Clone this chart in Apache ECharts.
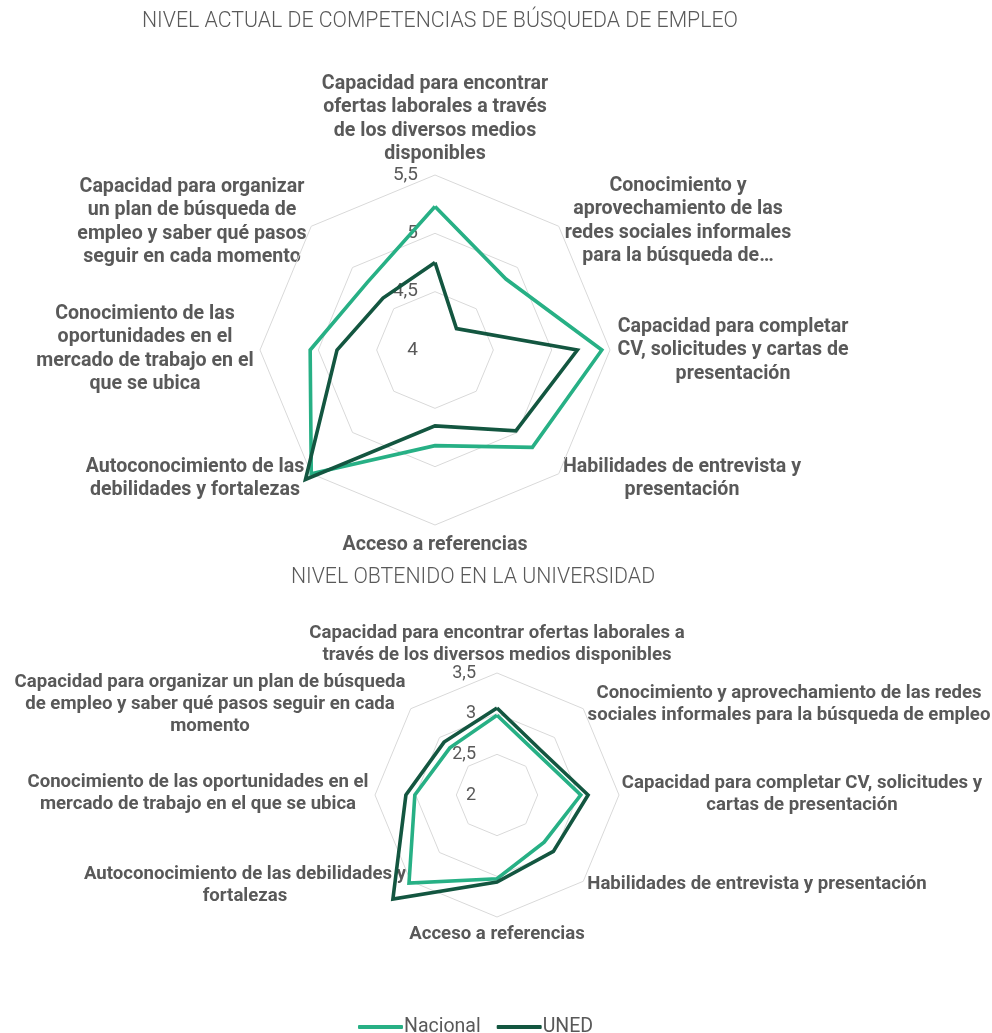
<!DOCTYPE html>
<html><head><meta charset="utf-8">
<script src="https://cdn.jsdelivr.net/npm/echarts@6/dist/echarts.min.js"></script>
<style>html,body{margin:0;padding:0;background:#fff}#c{width:992px;height:1033px}</style>
</head><body><div id="c"></div>
<script>
// Categories listed clockwise starting from the top axis
const categories = [
  'Capacidad para encontrar ofertas laborales a través de los diversos medios disponibles',
  'Conocimiento y aprovechamiento de las redes sociales informales para la búsqueda de empleo',
  'Capacidad para completar CV, solicitudes y cartas de presentación',
  'Habilidades de entrevista y presentación',
  'Acceso a referencias',
  'Autoconocimiento de las debilidades y fortalezas',
  'Conocimiento de las oportunidades en el mercado de trabajo en el que se ubica',
  'Capacidad para organizar un plan de búsqueda de empleo y saber qué pasos seguir en cada momento'
];
const labelsTop = [
  'Capacidad para encontrar\nofertas laborales a través\nde los diversos medios\ndisponibles',
  'Conocimiento y\naprovechamiento de las\nredes sociales informales\npara la búsqueda de…',
  'Capacidad para completar\nCV, solicitudes y cartas de\npresentación',
  'Habilidades de entrevista y\npresentación',
  'Acceso a referencias',
  'Autoconocimiento de las\ndebilidades y fortalezas',
  'Conocimiento de las\noportunidades en el\nmercado de trabajo en el\nque se ubica',
  'Capacidad para organizar\nun plan de búsqueda de\nempleo y saber qué pasos\nseguir en cada momento'
];
const labelsBottom = [
  'Capacidad para encontrar ofertas laborales a\ntravés de los diversos medios disponibles',
  'Conocimiento y aprovechamiento de las redes\nsociales informales para la búsqueda de empleo',
  'Capacidad para completar CV, solicitudes y\ncartas de presentación',
  'Habilidades de entrevista y presentación',
  'Acceso a referencias',
  'Autoconocimiento de las debilidades y\nfortalezas',
  'Conocimiento de las oportunidades en el\nmercado de trabajo en el que se ubica',
  'Capacidad para organizar un plan de búsqueda\nde empleo y saber qué pasos seguir en cada\nmomento'
];
const seriesNames = ['Nacional', 'UNED'];
const titleTop = 'NIVEL ACTUAL DE COMPETENCIAS DE BÚSQUEDA DE EMPLEO';
const titleBottom = 'NIVEL OBTENIDO EN LA UNIVERSIDAD';
const actualNacional = [5.23, 4.86, 5.43, 5.18, 4.82, 5.50, 5.07, 4.82];
const actualUNED     = [4.75, 4.26, 5.22, 4.98, 4.65, 5.57, 4.84, 4.63];
const uniNacional    = [2.98, 2.71, 3.03, 2.82, 3.03, 3.53, 3.01, 2.82];
const uniUNED        = [3.07, 2.77, 3.12, 2.98, 3.07, 3.81, 3.12, 2.92];
const ticksTop = [4, 4.5, 5, 5.5];
const ticksBottom = [2, 2.5, 3, 3.5];
const tickLabelsTop = ['4', '4,5', '5', '5,5'];
const tickLabelsBottom = ['2', '2,5', '3', '3,5'];

const colors = ['#27B085', '#135640'];
const textColor = '#595959';
// ECharts places radar indicators counter-clockwise; reorder clockwise list
const ccw = [0, 7, 6, 5, 4, 3, 2, 1];
const reorder = arr => ccw.map(i => arr[i]);

const radarTop = {cx: 435, cy: 350, r: 175, min: ticksTop[0], max: ticksTop[ticksTop.length - 1]};
const radarBot = {cx: 497, cy: 795, r: 122, min: ticksBottom[0], max: ticksBottom[ticksBottom.length - 1]};

function radarCfg(g) {
  return {
    center: [g.cx, g.cy], radius: g.r, startAngle: 90, shape: 'polygon', splitNumber: 3,
    indicator: reorder(categories).map(n => ({name: n, min: g.min, max: g.max})),
    axisName: {show: false},
    axisLine: {show: false}, axisTick: {show: false}, axisLabel: {show: false},
    splitLine: {lineStyle: {color: '#D9D9D9', width: 1}},
    splitArea: {show: false}
  };
}
function series(idx, a, b) {
  return [a, b].map((vals, k) => ({
    type: 'radar', radarIndex: idx, name: seriesNames[k], symbol: 'none', z: 2 + k,
    lineStyle: {color: colors[k], width: 3.6, join: 'miter'},
    itemStyle: {color: colors[k]},
    data: [{name: seriesNames[k], value: reorder(vals)}]
  }));
}

// label layout: [centerX, topY] for each clockwise category
const layTop = [[435, 72], [678, 174], [733, 315], [682, 455], [435, 533], [195, 455], [145, 302], [192, 175]];
const layBot = [[497, 622], [789, 682], [802, 772], [757, 873], [497, 923], [245, 863], [198, 771], [210, 671]];

const graphics = [];
function addLabels(labels, lay, size, lh) {
  labels.forEach((t, i) => graphics.push({
    type: 'text', x: lay[i][0], y: lay[i][1],
    style: {text: t, fill: textColor, font: 'bold ' + size + 'px Roboto', align: 'center', verticalAlign: 'top', lineHeight: lh}
  }));
}
addLabels(labelsTop, layTop, 19.6, 23.5);
addLabels(labelsBottom, layBot, 18.6, 22);
function addTicks(ticks, lbls, g, dx, size) {
  ticks.forEach((v, i) => graphics.push({
    type: 'text', x: g.cx - dx, y: g.cy - g.r * (v - g.min) / (g.max - g.min),
    style: {text: lbls[i], fill: textColor, font: size + 'px Roboto', align: 'right', verticalAlign: 'middle'}
  }));
}
addTicks(ticksTop, tickLabelsTop, radarTop, 17, 19);
addTicks(ticksBottom, tickLabelsBottom, radarBot, 21, 18);
graphics.push({type: 'text', x: 440, y: 22, style: {text: titleTop, fill: textColor, font: '300 21.3px Roboto', align: 'center', verticalAlign: 'middle'}});
graphics.push({type: 'text', x: 473, y: 578, style: {text: titleBottom, fill: textColor, font: '300 21.3px Roboto', align: 'center', verticalAlign: 'middle'}});

const chart = echarts.init(document.getElementById('c'), null, {renderer: 'canvas'});
chart.setOption({
  animation: false,
  color: colors,
  radar: [radarCfg(radarTop), radarCfg(radarBot)],
  legend: {
    data: seriesNames, top: 1012, left: 353, itemWidth: 45, itemHeight: 4, itemGap: 16,
    icon: 'roundRect',
    textStyle: {color: textColor, fontSize: 19.5, fontFamily: 'Roboto', padding: [0, 0, 0, -4]}
  },
  series: [...series(0, actualNacional, actualUNED), ...series(1, uniNacional, uniUNED)],
  graphic: graphics
});
</script></body></html>
